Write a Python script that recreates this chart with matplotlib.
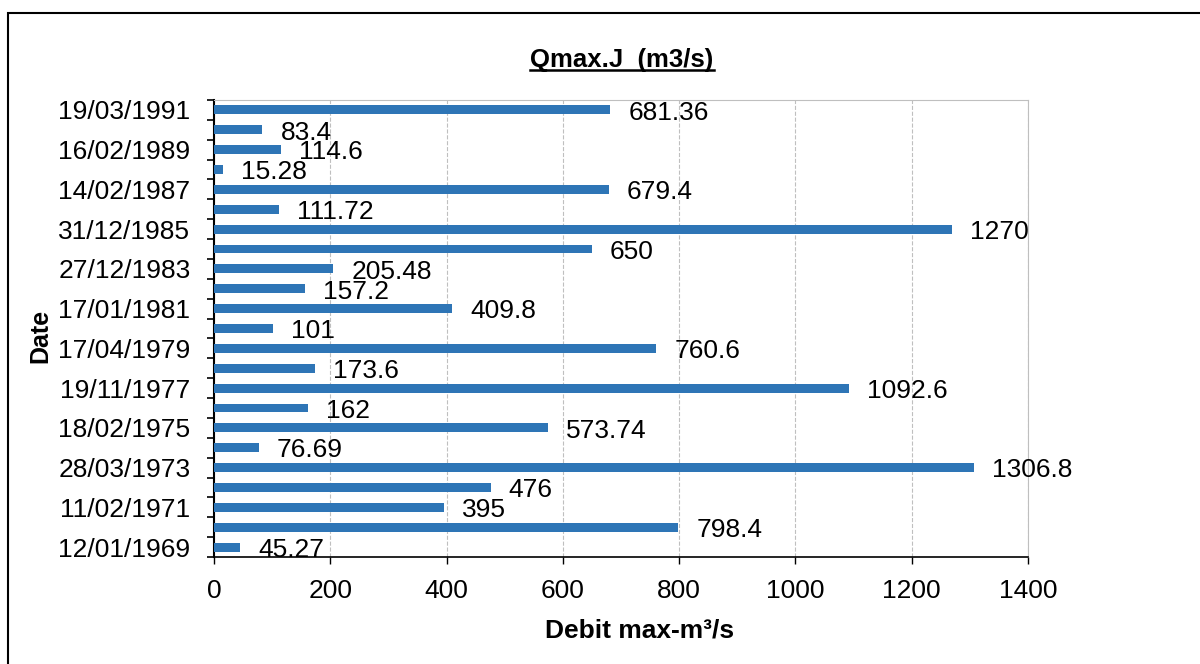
import numpy as np
import matplotlib
matplotlib.use("Agg")
import matplotlib.pyplot as plt
from matplotlib.lines import Line2D
from matplotlib.patches import Rectangle

plt.rcParams['font.family'] = ['Liberation Sans', 'DejaVu Sans']

# valeurs de bas en haut
qmax = [45.27, 798.4, 395, 476, 1306.8, 76.69, 573.74, 162, 1092.6, 173.6,
        760.6, 101, 409.8, 157.2, 205.48, 650, 1270, 111.72, 679.4, 15.28,
        114.6, 83.4, 681.36]
value_labels = ['45.27', '798.4', '395', '476', '1306.8', '76.69', '573.74',
                '162', '1092.6', '173.6', '760.6', '101', '409.8', '157.2',
                '205.48', '650', '1270', '111.72', '679.4', '15.28', '114.6',
                '83.4', '681.36']
# une date sur deux est affichee
dates = ['12/01/1969', '11/02/1971', '28/03/1973', '18/02/1975', '19/11/1977',
         '17/04/1979', '17/01/1981', '27/12/1983', '31/12/1985', '14/02/1987',
         '16/02/1989', '19/03/1991']
xticks = [0, 200, 400, 600, 800, 1000, 1200, 1400]

fig = plt.figure(figsize=(12, 6.64), dpi=100)
ax = fig.add_axes([214/1200, 1 - 557/664, (1028 - 214)/1200, (557 - 100)/664])

pos = np.arange(len(qmax))
ax.barh(pos, qmax, height=0.45, color='#2e75b6', zorder=3)
for p, v, t in zip(pos, qmax, value_labels):
    ax.annotate(t, (v, p), xytext=(13, -2), textcoords='offset points',
                va='center', ha='left', fontsize=19, color='black', zorder=4)

ax.set_xlim(0, 1400)
ax.set_ylim(-0.5, len(qmax) - 0.5)
ax.set_xticks(xticks)
ax.set_xticklabels([str(x) for x in xticks], fontsize=19)
ax.tick_params(axis='x', direction='out', length=5, width=1, pad=11, color='black')

# graduations aux limites des categories, etiquettes au centre
ax.set_yticks(np.arange(-0.5, len(qmax), 1.0))
ax.set_yticklabels([])
ax.tick_params(axis='y', which='major', direction='out', length=5, width=1.2, color='black')
ax.set_yticks(np.arange(0, len(qmax), 2), minor=True)
ax.set_yticklabels(dates, minor=True, fontsize=19)
ax.tick_params(axis='y', which='minor', length=0, pad=17)

ax.grid(axis='x', color='#bfbfbf', linestyle='--', linewidth=0.8, zorder=0)
ax.grid(axis='y', visible=False)
ax.spines['left'].set_color('black')
ax.spines['left'].set_linewidth(1.5)
ax.spines['bottom'].set_color('black')
ax.spines['bottom'].set_linewidth(1.2)
ax.spines['top'].set_color('#bfbfbf')
ax.spines['right'].set_color('#bfbfbf')

fig.text(40/1200, 1 - 336/664, 'Date', rotation=90, fontsize=18, fontweight='bold',
         ha='center', va='center')
fig.text(640/1200, 1 - 630/664, 'Debit max-m³/s', fontsize=19, fontweight='bold',
         ha='center', va='center')

title = fig.text(622/1200, 1 - 60/664, 'Qmax.J  (m3/s)', fontsize=18.5,
                 fontweight='bold', ha='center', va='center')
fig.canvas.draw()
bb = title.get_window_extent().transformed(fig.transFigure.inverted())
fig.add_artist(Line2D([bb.x0, bb.x1], [bb.y0 + 0.003, bb.y0 + 0.003],
                      transform=fig.transFigure, color='black', linewidth=1.8))

# cadre du graphique
fig.add_artist(Rectangle((8/1200, -0.05), 1.1, 1 - 13/664 + 0.05,
                         transform=fig.transFigure, fill=False,
                         edgecolor='black', linewidth=1.5))

fig.savefig('out.png', dpi=100)
